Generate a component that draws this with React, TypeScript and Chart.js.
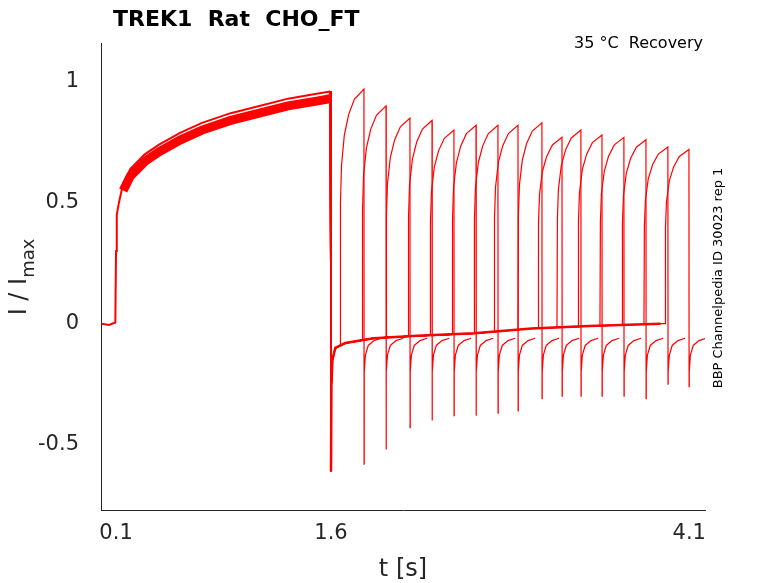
import React, { useEffect, useRef } from "react";
import { Chart, registerables } from "chart.js";
Chart.register(...registerables);

const xTicks = [0.1, 1.6, 4.1];
const yTicks = [-0.5, 0, 0.5, 1];
// activation (shared by all sweeps)
const actT = [0, 0.05, 0.095, 0.1, 0.105, 0.12, 0.15, 0.2, 0.3, 0.4, 0.55, 0.7, 0.9, 1.1, 1.3, 1.5, 1.595];
const actY = [0, -0.005, 0.005, 0.3, 0.45, 0.5, 0.58, 0.64, 0.7, 0.74, 0.79, 0.83, 0.87, 0.9, 0.93, 0.95, 0.96];
// tail after first pulse (reference sweep)
const tailT = [1.6, 1.603, 1.61, 1.63, 1.7, 1.9, 2.2, 2.6, 3.0, 3.4, 3.9];
const tailY = [-0.61, -0.25, -0.15, -0.1, -0.08, -0.06, -0.05, -0.04, -0.02, -0.01, 0];
// recovery pulses
const starts = [1.663, 1.817, 1.984, 2.138, 2.291, 2.445, 2.598, 2.738, 2.905, 3.045, 3.177, 3.324, 3.477, 3.631, 3.784, 3.931];
const peaks = [0.97, 0.9, 0.85, 0.84, 0.8, 0.82, 0.82, 0.82, 0.83, 0.77, 0.8, 0.78, 0.77, 0.76, 0.73, 0.72];
const spikes = [-0.58, -0.52, -0.43, -0.4, -0.38, -0.38, -0.37, -0.36, -0.31, -0.3, -0.3, -0.3, -0.3, -0.31, -0.25, -0.26];
const pulseLen = 0.167;
const riseT = [0, 0.003, 0.01, 0.03, 0.06, 0.1, 0.167];
const riseF = [0, 0.55, 0.7, 0.82, 0.9, 0.96, 1.0];
const relaxT = [0.002, 0.01, 0.03, 0.07, 0.12];
const relaxY = [-0.2, -0.13, -0.09, -0.07, -0.06];

function tailAt(t: number) {
  for (let i = 1; i < tailT.length; i++) if (t <= tailT[i]) {
    const a = (t - tailT[i - 1]) / (tailT[i] - tailT[i - 1]);
    return tailY[i - 1] + a * (tailY[i] - tailY[i - 1]);
  }
  return 0;
}

export default function App() {
  const ref = useRef<HTMLCanvasElement>(null);
  useEffect(() => {
    const datasets: any[] = [];
    datasets.push({ data: actT.map((t, i) => ({ x: t, y: actY[i] })), borderColor: "#ff0000", borderWidth: 2, pointRadius: 0 });
    datasets.push({ data: actT.filter((t) => t > 0.12).map((t) => ({ x: t, y: actY[actT.indexOf(t)] - 0.03 })), borderColor: "#ff0000", borderWidth: 9, pointRadius: 0 });
    starts.forEach((s, k) => {
      const pts: any[] = [{ x: 1.595, y: actY[actY.length - 1] }];
      tailT.filter((t) => t < s).forEach((t) => pts.push({ x: t, y: tailAt(t) }));
      const base = tailAt(s);
      riseT.forEach((d, i) => pts.push({ x: s + d, y: base + (peaks[k] - base) * riseF[i] }));
      pts.push({ x: s + pulseLen + 0.001, y: spikes[k] });
      relaxT.forEach((d, i) => pts.push({ x: s + pulseLen + d, y: relaxY[i] }));
      datasets.push({ data: pts, borderColor: "#ff0000", borderWidth: 1.2, pointRadius: 0, tension: 0 });
    });
    datasets.push({ data: tailT.map((t, i) => ({ x: t, y: tailY[i] })), borderColor: "#ff0000", borderWidth: 2.5, pointRadius: 0 });
    const texts = {
      id: "texts",
      afterDraw(c: any) {
        const g = c.ctx;
        g.save();
        g.fillStyle = "#000";
        g.font = "bold 22px 'DejaVu Sans'";
        g.textBaseline = "alphabetic";
        g.fillText("TREK1  Rat  CHO_FT", 113, 26);
        g.font = "16px 'DejaVu Sans'";
        g.textAlign = "right";
        g.fillText("35 °C  Recovery", 703, 48);
        g.textAlign = "center";
        g.font = "24px 'DejaVu Sans'";
        g.fillStyle = "#262626";
        g.fillText("t [s]", 403, 576);
        g.translate(26, 277);
        g.rotate(-Math.PI / 2);
        g.textAlign = "left";
        const w1 = g.measureText("I / I").width;
        g.font = "18px 'DejaVu Sans'";
        const w2 = g.measureText("max").width;
        const x0 = -(w1 + w2) / 2;
        g.font = "24px 'DejaVu Sans'";
        g.fillText("I / I", x0, 0);
        g.font = "18px 'DejaVu Sans'";
        g.fillText("max", x0 + w1, 8);
        g.restore();
        g.save();
        g.fillStyle = "#000";
        g.font = "13px 'DejaVu Sans'";
        g.translate(722, 278);
        g.rotate(-Math.PI / 2);
        g.textAlign = "center";
        g.fillText("BBP Channelpedia ID 30023 rep 1", 0, 0);
        g.restore();
      },
    };
    const chart = new Chart(ref.current!, {
      type: "line",
      data: { datasets },
      plugins: [texts],
      options: {
        animation: false,
        responsive: false,
        parsing: false as any,
        layout: { padding: { top: 43, right: 73, left: 0, bottom: 0 } },
        plugins: { legend: { display: false }, tooltip: { enabled: false } },
        scales: {
          x: {
            type: "linear", min: -0.005, max: 4.21,
            afterBuildTicks: (s: any) => { s.ticks = xTicks.map((v) => ({ value: v })); },
            afterFit: (s: any) => { s.height = 73; },
            grid: { display: false },
            border: { display: true, color: "#262626" },
            ticks: { font: { size: 21, family: "'DejaVu Sans'" }, color: "#262626", autoSkip: false, maxRotation: 0, callback: (v: any) => String(v) },
          },
          y: {
            min: -0.77, max: 1.16,
            afterBuildTicks: (s: any) => { s.ticks = yTicks.map((v) => ({ value: v })); },
            afterFit: (s: any) => { s.width = 101; },
            grid: { display: false },
            border: { display: true, color: "#262626" },
            ticks: { font: { size: 21, family: "'DejaVu Sans'" }, color: "#262626", padding: 14, callback: (v: any) => String(v) },
          },
        },
      },
    });
    return () => chart.destroy();
  }, []);
  return (
    <div style={{ position: "fixed", left: 0, top: 0, width: 778, height: 583, background: "#fff" }}>
      <canvas ref={ref} width={778} height={583} />
    </div>
  );
}
